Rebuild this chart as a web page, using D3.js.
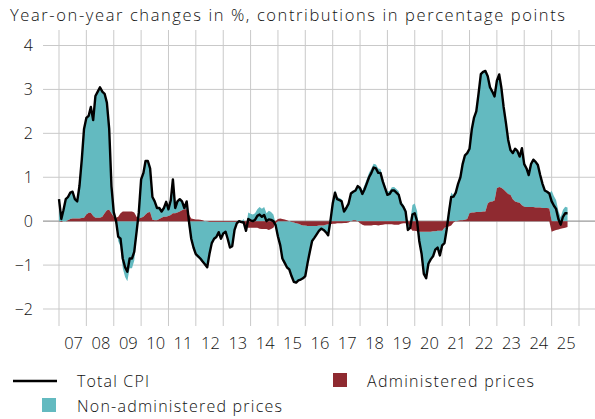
<!DOCTYPE html>
<html>
<head>
<meta charset="utf-8">
<script src="https://cdnjs.cloudflare.com/ajax/libs/d3/7.8.5/d3.min.js"></script>
<style>
  body { margin: 0; background: #fff; }
  svg text { font-family: "Open Sans", "DejaVu Sans", sans-serif; font-weight: 300; fill: #111; }
</style>
</head>
<body>
<div id="chart"></div>
<script>
// monthly data, Jan 2007 - Aug 2025
var startYear = 2007, startMonth = 0;

var totalCPI = [
  0.5, 0.05, 0.25, 0.5, 0.55, 0.65, 0.67, 0.5, 0.45, 0.8, 1.4, 2.1,          // 2007
  2.35, 2.4, 2.6, 2.3, 2.85, 2.95, 3.05, 2.95, 2.9, 2.7, 2.1, 0.8,           // 2008
  0.2, 0.0, -0.35, -0.4, -0.85, -1.05, -1.15, -0.85, -0.85, -0.7, -0.25, 0.2, // 2009
  0.95, 1.1, 1.37, 1.37, 1.2, 0.55, 0.45, 0.3, 0.3, 0.22, 0.3, 0.44,         // 2010
  0.27, 0.48, 0.95, 0.3, 0.45, 0.5, 0.45, 0.3, 0.45, 0.0, -0.4, -0.6,        // 2011
  -0.75, -0.8, -0.85, -0.92, -0.98, -1.05, -0.75, -0.5, -0.4, -0.36, -0.25, -0.4, // 2012
  -0.28, -0.24, -0.4, -0.6, -0.57, -0.2, -0.05, 0.0, -0.02, -0.03, -0.22, 0.05,  // 2013
  0.02, 0.0, 0.03, 0.12, 0.15, 0.1, 0.14, 0.0, 0.04, 0.03, 0.0, -0.09,       // 2014
  -0.35, -0.55, -0.85, -0.95, -1.05, -1.1, -1.25, -1.38, -1.4, -1.35, -1.33, -1.3, // 2015
  -1.25, -0.95, -0.7, -0.45, -0.38, -0.3, -0.22, -0.17, -0.2, -0.25, -0.32, 0.0,   // 2016
  0.4, 0.65, 0.5, 0.48, 0.45, 0.22, 0.3, 0.4, 0.63, 0.67, 0.7, 0.8,          // 2017
  0.75, 0.62, 0.72, 0.86, 1.0, 1.1, 1.22, 1.2, 1.1, 1.1, 0.9, 0.75,          // 2018
  0.6, 0.62, 0.7, 0.7, 0.65, 0.6, 0.4, 0.33, 0.22, -0.2, -0.15, 0.15,        // 2019
  0.18, 0.0, -0.45, -0.74, -1.2, -1.3, -0.97, -0.87, -0.8, -0.65, -0.6, -0.78, // 2020
  -0.55, -0.5, -0.2, 0.2, 0.55, 0.56, 0.65, 0.85, 1.0, 1.3, 1.5, 1.55,       // 2021
  1.65, 2.1, 2.35, 2.5, 2.9, 3.35, 3.4, 3.42, 3.3, 3.05, 2.95, 2.84,         // 2022
  3.2, 3.34, 3.05, 2.6, 2.25, 1.85, 1.62, 1.55, 1.65, 1.6, 1.47, 1.66,       // 2023
  1.3, 1.2, 1.05, 1.3, 1.4, 1.35, 1.28, 1.05, 0.85, 0.7, 0.67, 0.63,         // 2024
  0.45, 0.35, 0.28, 0.05, -0.08, 0.1, 0.18, 0.18                            // 2025
];

var administered = [
  0.0, -0.02, 0.0, 0.0, 0.02, 0.05, 0.06, 0.06, 0.06, 0.06, 0.07, 0.08,
  0.15, 0.19, 0.19, 0.12, 0.08, 0.08, 0.08, 0.1, 0.18, 0.25, 0.26, 0.18,
  0.1, 0.08, 0.1, 0.18, 0.22, 0.22, 0.22, 0.22, 0.22, 0.2, 0.1, 0.06,
  0.08, 0.1, 0.15, 0.2, 0.21, 0.03, 0.02, 0.02, 0.05, 0.08, 0.1, 0.1,
  0.12, 0.14, 0.18, 0.18, 0.2, 0.22, 0.25, 0.27, 0.27, 0.15, 0.06, 0.05,
  0.04, 0.04, 0.03, 0.02, 0.0, -0.01, -0.02, -0.02, -0.02, -0.02, -0.02, -0.02,
  -0.02, -0.02, -0.02, -0.02, -0.02, -0.02, -0.02, -0.02, -0.02, -0.08, -0.13, -0.15,
  -0.15, -0.15, -0.15, -0.15, -0.17, -0.18, -0.18, -0.18, -0.2, -0.18, -0.15, -0.05,
  0.05, 0.06, 0.05, 0.04, 0.02, 0.0, -0.02, -0.03, -0.05, -0.06, -0.08, -0.1,
  -0.1, -0.11, -0.11, -0.11, -0.11, -0.11, -0.1, -0.1, -0.1, -0.08, -0.07, -0.07,
  -0.06, -0.06, -0.05, -0.05, -0.05, -0.04, -0.04, -0.03, 0.0, 0.02, 0.02, 0.0,
  -0.05, -0.08, -0.1, -0.1, -0.1, -0.1, -0.09, -0.09, -0.1, -0.09, -0.08, -0.07,
  -0.07, -0.07, -0.07, -0.08, -0.08, -0.08, -0.06, -0.05, -0.05, -0.05, -0.15, -0.22,
  -0.22, -0.23, -0.24, -0.24, -0.24, -0.24, -0.24, -0.24, -0.23, -0.23, -0.22, -0.22,
  -0.22, -0.15, -0.13, -0.12, -0.1, -0.03, 0.0, 0.01, 0.02, 0.02, 0.03, 0.05,
  0.18, 0.2, 0.2, 0.21, 0.21, 0.21, 0.22, 0.22, 0.4, 0.44, 0.45, 0.47,
  0.75, 0.78, 0.76, 0.72, 0.67, 0.62, 0.6, 0.5, 0.45, 0.43, 0.42, 0.36,
  0.33, 0.32, 0.32, 0.32, 0.32, 0.31, 0.31, 0.31, 0.3, 0.3, 0.3, 0.29,
  -0.24, -0.22, -0.2, -0.19, -0.17, -0.16, -0.15, -0.13
];

var nonAdministered = [
  0.5, 0.07, 0.25, 0.5, 0.53, 0.6, 0.61, 0.44, 0.39, 0.74, 1.33, 2.02,
  2.2, 2.21, 2.41, 2.18, 2.77, 2.87, 2.97, 2.85, 2.72, 2.45, 1.84, 0.62,
  0.1, -0.08, -0.45, -0.58, -1.07, -1.27, -1.37, -1.07, -1.07, -0.9, -0.35, 0.14,
  0.87, 1.0, 1.22, 1.17, 0.99, 0.52, 0.43, 0.28, 0.25, 0.14, 0.2, 0.34,
  0.15, 0.34, 0.77, 0.12, 0.25, 0.28, 0.2, 0.03, 0.18, -0.15, -0.46, -0.65,
  -0.79, -0.84, -0.88, -0.94, -0.98, -1.04, -0.73, -0.48, -0.38, -0.34, -0.23, -0.38,
  -0.26, -0.22, -0.38, -0.58, -0.55, -0.18, -0.03, 0.02, 0.0, 0.05, -0.09, 0.2,
  0.17, 0.15, 0.18, 0.27, 0.32, 0.28, 0.32, 0.18, 0.24, 0.21, 0.15, -0.04,
  -0.4, -0.61, -0.9, -0.99, -1.07, -1.1, -1.23, -1.35, -1.35, -1.29, -1.25, -1.2,
  -1.15, -0.84, -0.59, -0.34, -0.27, -0.19, -0.12, -0.07, -0.1, -0.17, -0.25, 0.07,
  0.46, 0.71, 0.55, 0.53, 0.5, 0.26, 0.34, 0.43, 0.63, 0.65, 0.68, 0.8,
  0.8, 0.7, 0.82, 0.96, 1.1, 1.2, 1.31, 1.29, 1.2, 1.19, 0.98, 0.82,
  0.67, 0.69, 0.77, 0.78, 0.73, 0.68, 0.46, 0.38, 0.27, -0.15, 0.0, 0.37,
  0.4, 0.23, -0.21, -0.5, -0.96, -1.06, -0.73, -0.63, -0.57, -0.42, -0.38, -0.56,
  -0.33, -0.35, -0.07, 0.32, 0.65, 0.59, 0.65, 0.84, 0.98, 1.28, 1.47, 1.5,
  1.47, 1.9, 2.15, 2.29, 2.69, 3.14, 3.18, 3.2, 2.9, 2.61, 2.5, 2.37,
  2.45, 2.56, 2.29, 1.88, 1.58, 1.23, 1.02, 1.05, 1.2, 1.17, 1.05, 1.3,
  0.97, 0.88, 0.73, 0.98, 1.08, 1.04, 0.97, 0.74, 0.55, 0.4, 0.37, 0.34,
  0.69, 0.57, 0.48, 0.24, 0.09, 0.26, 0.33, 0.31
];

var yearLabels = ["07","08","09","10","11","12","13","14","15","16","17","18","19","20","21","22","23","24","25"];
var yTicks = [-2, -1, 0, 1, 2, 3, 4];

var width = 595, height = 419;
var tealColor = "#63bac0", redColor = "#8f2a30";

var svg = d3.select("#chart").append("svg")
    .attr("width", width)
    .attr("height", height);

// rows for the stack
var rows = totalCPI.map(function(v, i) {
    return {
        date: new Date(startYear, startMonth + i, 1),
        total: v,
        admin: administered[i],
        nonadmin: nonAdministered[i]
    };
});

var x = d3.scaleTime()
    .domain([new Date(2007, 0, 1), new Date(2026, 0, 1)])
    .range([59, 579]);
var y = d3.scaleLinear().domain([-2, 4]).range([309, 45.5]);

// title
svg.append("text")
    .attr("x", 10).attr("y", 21)
    .attr("textLength", 555).attr("lengthAdjust", "spacing")
    .style("font-size", "16.5px")
    .text("Year-on-year changes in %, contributions in percentage points");

// grid
var yearTicks = d3.range(2007, 2027).map(function(yr) { return new Date(yr, 0, 1); });
svg.append("g").selectAll("line.vg")
    .data(yearTicks).enter().append("line")
    .attr("x1", function(d) { return x(d); })
    .attr("x2", function(d) { return x(d); })
    .attr("y1", 30).attr("y2", 326)
    .attr("stroke", "#c9c9c9").attr("stroke-width", 1);

svg.append("g").selectAll("line.hg")
    .data(yTicks).enter().append("line")
    .attr("x1", 43).attr("x2", width)
    .attr("y1", function(d) { return y(d); })
    .attr("y2", function(d) { return y(d); })
    .attr("stroke", function(d) { return d == 0 ? "#9a9a9a" : "#c9c9c9"; })
    .attr("stroke-width", function(d) { return d == 0 ? 1.4 : 1; });

// y labels
svg.append("g").selectAll("text")
    .data(yTicks).enter().append("text")
    .attr("x", 33)
    .attr("y", function(d) { return y(d); })
    .attr("dy", "0.36em")
    .attr("text-anchor", "end")
    .style("font-size", "16px")
    .text(function(d) { return d < 0 ? "\u2212" + Math.abs(d) : d; });

// x labels, centred in each year
svg.append("g").selectAll("text")
    .data(yearLabels).enter().append("text")
    .attr("x", function(d, i) { return x(new Date(2007 + i, 6, 1)) + 1; })
    .attr("y", 349)
    .attr("text-anchor", "middle")
    .style("font-size", "16.5px")
    .text(function(d) { return d; });

// stacked contributions
var stack = d3.stack()
    .keys(["admin", "nonadmin"])
    .offset(d3.stackOffsetDiverging);
var series = stack(rows);

var area = d3.area()
    .x(function(d) { return x(d.data.date); })
    .y0(function(d) { return y(d[0]); })
    .y1(function(d) { return y(d[1]); });

svg.append("path")
    .datum(series[1])
    .attr("fill", tealColor)
    .attr("d", area);
svg.append("path")
    .datum(series[0])
    .attr("fill", redColor)
    .attr("d", area);

var line = d3.line()
    .x(function(d) { return x(d.date); })
    .y(function(d) { return y(d.total); });

svg.append("path")
    .datum(rows)
    .attr("fill", "none")
    .attr("stroke", "#000")
    .attr("stroke-width", 2.4)
    .attr("stroke-linejoin", "round")
    .attr("d", line);

// legend
var legend = svg.append("g").style("font-size", "16px");
legend.append("line")
    .attr("x1", 13).attr("x2", 57).attr("y1", 381).attr("y2", 381)
    .attr("stroke", "#000").attr("stroke-width", 2.4);
legend.append("text").attr("x", 77).attr("y", 386.5)
    .attr("textLength", 72).attr("lengthAdjust", "spacing")
    .text("Total CPI");
legend.append("rect")
    .attr("x", 333).attr("y", 373).attr("width", 14).attr("height", 14)
    .attr("fill", redColor);
legend.append("text").attr("x", 367).attr("y", 386.5)
    .attr("textLength", 167).attr("lengthAdjust", "spacing")
    .text("Administered prices");
legend.append("rect")
    .attr("x", 42).attr("y", 398).attr("width", 14).attr("height", 14)
    .attr("fill", tealColor);
legend.append("text").attr("x", 77).attr("y", 411.5)
    .attr("textLength", 205).attr("lengthAdjust", "spacing")
    .text("Non-administered prices");
</script>
</body>
</html>
